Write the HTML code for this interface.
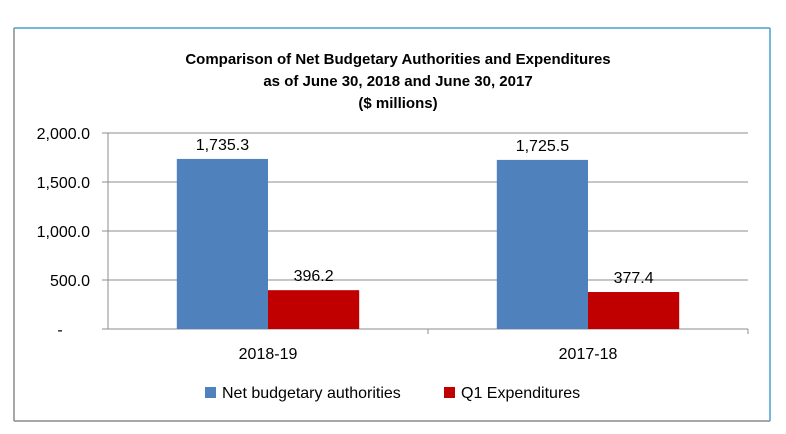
<!DOCTYPE html>
<html><head><meta charset="utf-8"><style>
body{margin:0;background:#fff;}
svg{display:block;font-family:"Liberation Sans",sans-serif;}
</style></head><body>
<svg id="c" width="786" height="434">
<line x1="14" y1="28" x2="770" y2="28" stroke="#4a9fd0" stroke-width="1.5"/>
<line x1="14" y1="28" x2="14" y2="421" stroke="#8a8a8a" stroke-width="1.5"/>
<line x1="770" y1="28" x2="770" y2="421" stroke="#4a9fd0" stroke-width="1.5"/>
<line x1="14" y1="421" x2="770" y2="421" stroke="#8a8a8a" stroke-width="1.5"/>
<g font-weight="bold" font-size="15" text-anchor="middle" fill="#000">
<text x="398" y="64">Comparison of Net Budgetary Authorities and Expenditures</text>
<text x="398" y="86">as of June 30, 2018 and June 30, 2017</text>
<text x="398" y="108">($ millions)</text>
</g>
<g id="plot"></g>
<g>
<rect x="205" y="387" width="11" height="11" fill="#4f81bd"/>
<text x="222" y="398" font-size="16">Net budgetary authorities</text>
<rect x="444" y="387" width="11" height="11" fill="#c00000"/>
<text x="461" y="398" font-size="16">Q1 Expenditures</text>
</g>
</svg>
<script>
const categories=["2018-19","2017-18"];
const authorities=[1735.3,1725.5];
const expenditures=[396.2,377.4];
const ticks=[0,500,1000,1500,2000];
const tickLabels=["-","500.0","1,000.0","1,500.0","2,000.0"];
const NS="http://www.w3.org/2000/svg";
const g=document.getElementById("plot");
const x0=108,x1=748,yb=329,yt=133,vmax=2000;
const y=v=>yb-(v/vmax)*(yb-yt);
const bw=(x1-x0)/categories.length;
function mk(t,a){const e=document.createElementNS(NS,t);for(const k in a)e.setAttribute(k,a[k]);g.appendChild(e);return e;}
ticks.forEach((t,i)=>{
 const l=mk("line",{x1:102,x2:x1,y1:y(t),y2:y(t),stroke:"#8c8c8c","stroke-width":1});
 
 
 const tx=mk("text",{x:i==0?60:90,y:y(t)+6,"font-size":16,"text-anchor":i==0?"middle":"end"});
 tx.textContent=tickLabels[i];
 
 
});
const ax=mk("line",{x1:x0,x2:x0,y1:yt,y2:yb,stroke:"#8c8c8c"});


categories.forEach((c,i)=>{
 const cx=x0+bw*(i+0.5),w=bw*0.285;
 [[authorities,"#4f81bd",-w],[expenditures,"#c00000",0]].forEach(([arr,col,off],j)=>{
  const v=arr[i];
  const r=mk("rect",{x:cx+off,y:y(v),width:w,height:yb-y(v),fill:col});
  
  
  const t=mk("text",{x:cx+off+w/2,y:y(v)-9,"font-size":16,"text-anchor":"middle"});
  t.textContent=v.toLocaleString("en-US",{minimumFractionDigits:1,maximumFractionDigits:1});
  
  
 });
 const tk=mk("line",{x1:x0+bw*(i+1),x2:x0+bw*(i+1),y1:yb,y2:yb+5,stroke:"#8c8c8c"});
 
 
 const cl=mk("text",{x:cx,y:359,"font-size":16,"text-anchor":"middle"});
 cl.textContent=c;
 
 
});
</script>
</body></html>
